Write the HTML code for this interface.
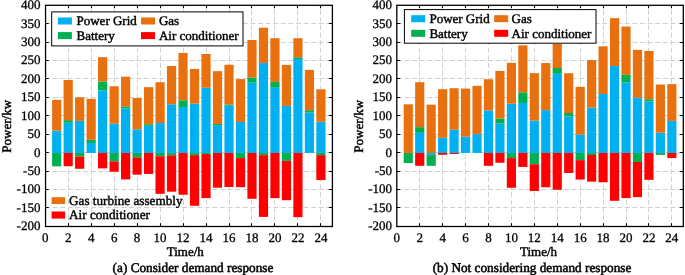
<!DOCTYPE html>
<html><head><meta charset="utf-8"><style>
html,body{margin:0;padding:0;background:#fff;width:685px;height:275px;overflow:hidden}
svg{display:block}
text{text-rendering:geometricPrecision;font-family:"Liberation Serif",serif;font-size:13px;fill:#000;stroke:#000;stroke-width:0.42px}
.t{will-change:transform}
.n{stroke-width:0.3px}
</style></head><body>
<svg class="t" width="685" height="275" viewBox="0 0 685 275">
<rect width="685" height="275" fill="#fff"/>
<path d="M68.5 5.3V226.3M91.5 5.3V226.3M114.5 5.3V226.3M137.5 5.3V226.3M160.5 5.3V226.3M183.5 5.3V226.3M206.5 5.3V226.3M229.5 5.3V226.3M251.5 5.3V226.3M274.5 5.3V226.3M297.5 5.3V226.3M320.5 5.3V226.3" stroke="#d0d0d0" stroke-width="1" stroke-dasharray="5 2.6" stroke-dashoffset="3.2" fill="none"/>
<path d="M45.2 207.5H332.4M45.2 189.5H332.4M45.2 171.5H332.4M45.2 152.5H332.4M45.2 134.5H332.4M45.2 115.5H332.4M45.2 97.5H332.4M45.2 78.5H332.4M45.2 60.5H332.4M45.2 42.5H332.4M45.2 23.5H332.4" stroke="#d0d0d0" stroke-width="1" stroke-dasharray="5 2.6" fill="none"/>
<rect x="52.09" y="130.65" width="9.19" height="22.28" fill="#00b0f0"/>
<rect x="52.09" y="99.89" width="9.19" height="30.76" fill="#e8700f"/>
<rect x="52.09" y="152.93" width="9.19" height="13.41" fill="#00b050"/>
<rect x="63.58" y="122.73" width="9.19" height="30.2" fill="#00b0f0"/>
<rect x="63.58" y="120.15" width="9.19" height="2.58" fill="#00b050"/>
<rect x="63.58" y="80" width="9.19" height="40.15" fill="#e8700f"/>
<rect x="63.58" y="152.93" width="9.19" height="13.26" fill="#ff0000"/>
<rect x="75.07" y="120.89" width="9.19" height="32.05" fill="#00b0f0"/>
<rect x="75.07" y="97.31" width="9.19" height="23.57" fill="#e8700f"/>
<rect x="75.07" y="152.93" width="9.19" height="3.68" fill="#00b050"/>
<rect x="75.07" y="156.62" width="9.19" height="12.15" fill="#ff0000"/>
<rect x="86.56" y="142.99" width="9.19" height="9.95" fill="#00b0f0"/>
<rect x="86.56" y="139.67" width="9.19" height="3.31" fill="#00b050"/>
<rect x="86.56" y="98.79" width="9.19" height="40.89" fill="#e8700f"/>
<rect x="98.04" y="90.32" width="9.19" height="62.62" fill="#00b0f0"/>
<rect x="98.04" y="81.48" width="9.19" height="8.84" fill="#00b050"/>
<rect x="98.04" y="57.17" width="9.19" height="24.31" fill="#e8700f"/>
<rect x="98.04" y="152.93" width="9.19" height="15.47" fill="#ff0000"/>
<rect x="109.53" y="123.47" width="9.19" height="29.47" fill="#00b0f0"/>
<rect x="109.53" y="86.27" width="9.19" height="37.2" fill="#e8700f"/>
<rect x="109.53" y="152.93" width="9.19" height="8.47" fill="#00b050"/>
<rect x="109.53" y="161.41" width="9.19" height="10.31" fill="#ff0000"/>
<rect x="121.02" y="108.36" width="9.19" height="44.57" fill="#00b0f0"/>
<rect x="121.02" y="106.52" width="9.19" height="1.84" fill="#00b050"/>
<rect x="121.02" y="76.69" width="9.19" height="29.83" fill="#e8700f"/>
<rect x="121.02" y="152.93" width="9.19" height="26.52" fill="#ff0000"/>
<rect x="132.51" y="129.36" width="9.19" height="23.57" fill="#00b0f0"/>
<rect x="132.51" y="98.05" width="9.19" height="31.31" fill="#e8700f"/>
<rect x="132.51" y="152.93" width="9.19" height="4.42" fill="#00b050"/>
<rect x="132.51" y="157.35" width="9.19" height="17.31" fill="#ff0000"/>
<rect x="144" y="125.86" width="9.19" height="27.07" fill="#00b0f0"/>
<rect x="144" y="124.2" width="9.19" height="1.66" fill="#00b050"/>
<rect x="144" y="87.19" width="9.19" height="37.02" fill="#e8700f"/>
<rect x="144" y="152.93" width="9.19" height="21" fill="#ff0000"/>
<rect x="155.48" y="122.95" width="9.19" height="29.98" fill="#00b0f0"/>
<rect x="155.48" y="82.21" width="9.19" height="40.74" fill="#e8700f"/>
<rect x="155.48" y="152.93" width="9.19" height="3.31" fill="#00b050"/>
<rect x="155.48" y="156.25" width="9.19" height="37.57" fill="#ff0000"/>
<rect x="166.97" y="104.31" width="9.19" height="48.62" fill="#00b0f0"/>
<rect x="166.97" y="66.01" width="9.19" height="38.31" fill="#e8700f"/>
<rect x="166.97" y="152.93" width="9.19" height="2.39" fill="#00b050"/>
<rect x="166.97" y="155.33" width="9.19" height="36.35" fill="#ff0000"/>
<rect x="178.46" y="107.04" width="9.19" height="45.89" fill="#00b0f0"/>
<rect x="178.46" y="100.26" width="9.19" height="6.78" fill="#00b050"/>
<rect x="178.46" y="52.93" width="9.19" height="47.33" fill="#e8700f"/>
<rect x="178.46" y="152.93" width="9.19" height="41.81" fill="#ff0000"/>
<rect x="189.95" y="103.58" width="9.19" height="49.36" fill="#00b0f0"/>
<rect x="189.95" y="68.95" width="9.19" height="34.62" fill="#e8700f"/>
<rect x="189.95" y="152.93" width="9.19" height="2.21" fill="#00b050"/>
<rect x="189.95" y="155.14" width="9.19" height="50.65" fill="#ff0000"/>
<rect x="201.44" y="87.74" width="9.19" height="65.2" fill="#00b0f0"/>
<rect x="201.44" y="54" width="9.19" height="33.74" fill="#e8700f"/>
<rect x="201.44" y="152.93" width="9.19" height="1.1" fill="#00b050"/>
<rect x="201.44" y="154.04" width="9.19" height="44.05" fill="#ff0000"/>
<rect x="212.92" y="125.16" width="9.19" height="27.77" fill="#00b0f0"/>
<rect x="212.92" y="123.95" width="9.19" height="1.22" fill="#00b050"/>
<rect x="212.92" y="71.16" width="9.19" height="52.78" fill="#e8700f"/>
<rect x="212.92" y="152.93" width="9.19" height="34.77" fill="#ff0000"/>
<rect x="224.41" y="105.64" width="9.19" height="47.29" fill="#00b0f0"/>
<rect x="224.41" y="104.53" width="9.19" height="1.11" fill="#00b050"/>
<rect x="224.41" y="64.72" width="9.19" height="39.82" fill="#e8700f"/>
<rect x="224.41" y="152.93" width="9.19" height="34.07" fill="#ff0000"/>
<rect x="235.9" y="121.99" width="9.19" height="30.94" fill="#00b0f0"/>
<rect x="235.9" y="79.12" width="9.19" height="42.87" fill="#e8700f"/>
<rect x="235.9" y="152.93" width="9.19" height="5.16" fill="#00b050"/>
<rect x="235.9" y="158.09" width="9.19" height="29.1" fill="#ff0000"/>
<rect x="247.39" y="82.58" width="9.19" height="70.35" fill="#00b0f0"/>
<rect x="247.39" y="77.42" width="9.19" height="5.16" fill="#00b050"/>
<rect x="247.39" y="40" width="9.19" height="37.42" fill="#e8700f"/>
<rect x="247.39" y="152.93" width="9.19" height="45.86" fill="#ff0000"/>
<rect x="258.88" y="63.06" width="9.19" height="89.87" fill="#00b0f0"/>
<rect x="258.88" y="27.7" width="9.19" height="35.36" fill="#e8700f"/>
<rect x="258.88" y="152.93" width="9.19" height="2.21" fill="#00b050"/>
<rect x="258.88" y="155.14" width="9.19" height="61.77" fill="#ff0000"/>
<rect x="270.36" y="87.74" width="9.19" height="65.2" fill="#00b0f0"/>
<rect x="270.36" y="81.84" width="9.19" height="5.89" fill="#00b050"/>
<rect x="270.36" y="38.2" width="9.19" height="43.65" fill="#e8700f"/>
<rect x="270.36" y="152.93" width="9.19" height="45.16" fill="#ff0000"/>
<rect x="281.85" y="105.93" width="9.19" height="47" fill="#00b0f0"/>
<rect x="281.85" y="64.9" width="9.19" height="41.03" fill="#e8700f"/>
<rect x="281.85" y="152.93" width="9.19" height="7.92" fill="#00b050"/>
<rect x="281.85" y="160.85" width="9.19" height="39.34" fill="#ff0000"/>
<rect x="293.34" y="59.01" width="9.19" height="93.93" fill="#00b0f0"/>
<rect x="293.34" y="57.35" width="9.19" height="1.66" fill="#00b050"/>
<rect x="293.34" y="38.2" width="9.19" height="19.15" fill="#e8700f"/>
<rect x="293.34" y="152.93" width="9.19" height="64.2" fill="#ff0000"/>
<rect x="304.83" y="112.42" width="9.19" height="40.52" fill="#00b0f0"/>
<rect x="304.83" y="110.21" width="9.19" height="2.21" fill="#00b050"/>
<rect x="304.83" y="69.91" width="9.19" height="40.3" fill="#e8700f"/>
<rect x="316.32" y="121.74" width="9.19" height="31.2" fill="#00b0f0"/>
<rect x="316.32" y="89.32" width="9.19" height="32.41" fill="#e8700f"/>
<rect x="316.32" y="152.93" width="9.19" height="2.21" fill="#00b050"/>
<rect x="316.32" y="155.14" width="9.19" height="24.9" fill="#ff0000"/>
<path d="M68.5 5.3v3M68.5 226.3v-3M91.5 5.3v3M91.5 226.3v-3M114.5 5.3v3M114.5 226.3v-3M137.5 5.3v3M137.5 226.3v-3M160.5 5.3v3M160.5 226.3v-3M183.5 5.3v3M183.5 226.3v-3M206.5 5.3v3M206.5 226.3v-3M229.5 5.3v3M229.5 226.3v-3M251.5 5.3v3M251.5 226.3v-3M274.5 5.3v3M274.5 226.3v-3M297.5 5.3v3M297.5 226.3v-3M320.5 5.3v3M320.5 226.3v-3M45.2 207.5h3.5M332.4 207.5h-3.5M45.2 189.5h3.5M332.4 189.5h-3.5M45.2 171.5h3.5M332.4 171.5h-3.5M45.2 152.5h3.5M332.4 152.5h-3.5M45.2 134.5h3.5M332.4 134.5h-3.5M45.2 115.5h3.5M332.4 115.5h-3.5M45.2 97.5h3.5M332.4 97.5h-3.5M45.2 78.5h3.5M332.4 78.5h-3.5M45.2 60.5h3.5M332.4 60.5h-3.5M45.2 42.5h3.5M332.4 42.5h-3.5M45.2 23.5h3.5M332.4 23.5h-3.5" stroke="#000" stroke-width="1.1" fill="none"/>
<rect x="45.55" y="5.3" width="286.85" height="221.2" fill="none" stroke="#000" stroke-width="1.3"/>
<text transform="translate(40.4 230.2) scale(1 1.0)" text-anchor="end" class="n">-200</text>
<text transform="translate(40.4 211.78) scale(1 1.0)" text-anchor="end" class="n">-150</text>
<text transform="translate(40.4 193.37) scale(1 1.0)" text-anchor="end" class="n">-100</text>
<text transform="translate(40.4 174.95) scale(1 1.0)" text-anchor="end" class="n">-50</text>
<text transform="translate(40.4 156.53) scale(1 1.0)" text-anchor="end" class="n">0</text>
<text transform="translate(40.4 138.12) scale(1 1.0)" text-anchor="end" class="n">50</text>
<text transform="translate(40.4 119.7) scale(1 1.0)" text-anchor="end" class="n">100</text>
<text transform="translate(40.4 101.28) scale(1 1.0)" text-anchor="end" class="n">150</text>
<text transform="translate(40.4 82.87) scale(1 1.0)" text-anchor="end" class="n">200</text>
<text transform="translate(40.4 64.45) scale(1 1.0)" text-anchor="end" class="n">250</text>
<text transform="translate(40.4 46.03) scale(1 1.0)" text-anchor="end" class="n">300</text>
<text transform="translate(40.4 27.62) scale(1 1.0)" text-anchor="end" class="n">350</text>
<text transform="translate(40.4 9.2) scale(1 1.0)" text-anchor="end" class="n">400</text>
<text transform="translate(45.2 241.5) scale(1 1.0)" text-anchor="middle" class="n">0</text>
<text transform="translate(68.18 241.5) scale(1 1.0)" text-anchor="middle" class="n">2</text>
<text transform="translate(91.15 241.5) scale(1 1.0)" text-anchor="middle" class="n">4</text>
<text transform="translate(114.13 241.5) scale(1 1.0)" text-anchor="middle" class="n">6</text>
<text transform="translate(137.1 241.5) scale(1 1.0)" text-anchor="middle" class="n">8</text>
<text transform="translate(160.08 241.5) scale(1 1.0)" text-anchor="middle" class="n">10</text>
<text transform="translate(183.06 241.5) scale(1 1.0)" text-anchor="middle" class="n">12</text>
<text transform="translate(206.03 241.5) scale(1 1.0)" text-anchor="middle" class="n">14</text>
<text transform="translate(229.01 241.5) scale(1 1.0)" text-anchor="middle" class="n">16</text>
<text transform="translate(251.98 241.5) scale(1 1.0)" text-anchor="middle" class="n">18</text>
<text transform="translate(274.96 241.5) scale(1 1.0)" text-anchor="middle" class="n">20</text>
<text transform="translate(297.94 241.5) scale(1 1.0)" text-anchor="middle" class="n">22</text>
<text transform="translate(320.91 241.5) scale(1 1.0)" text-anchor="middle" class="n">24</text>
<path d="M419.5 5.3V226.3M442.5 5.3V226.3M465.5 5.3V226.3M488.5 5.3V226.3M511.5 5.3V226.3M534.5 5.3V226.3M557.5 5.3V226.3M580.5 5.3V226.3M603.5 5.3V226.3M626.5 5.3V226.3M648.5 5.3V226.3M671.5 5.3V226.3" stroke="#d0d0d0" stroke-width="1" stroke-dasharray="5 2.6" stroke-dashoffset="3.2" fill="none"/>
<path d="M396.8 207.5H683.3M396.8 189.5H683.3M396.8 171.5H683.3M396.8 152.5H683.3M396.8 134.5H683.3M396.8 115.5H683.3M396.8 97.5H683.3M396.8 78.5H683.3M396.8 60.5H683.3M396.8 42.5H683.3M396.8 23.5H683.3" stroke="#d0d0d0" stroke-width="1" stroke-dasharray="5 2.6" fill="none"/>
<rect x="403.68" y="104.31" width="9.17" height="48.62" fill="#e8700f"/>
<rect x="403.68" y="152.93" width="9.17" height="10.2" fill="#00b050"/>
<rect x="415.14" y="132.86" width="9.17" height="20.07" fill="#00b0f0"/>
<rect x="415.14" y="127.15" width="9.17" height="5.71" fill="#00b050"/>
<rect x="415.14" y="82.21" width="9.17" height="44.94" fill="#e8700f"/>
<rect x="415.14" y="152.93" width="9.17" height="12.89" fill="#ff0000"/>
<rect x="426.6" y="104.68" width="9.17" height="48.25" fill="#e8700f"/>
<rect x="426.6" y="152.93" width="9.17" height="1.84" fill="#00b0f0"/>
<rect x="426.6" y="154.78" width="9.17" height="11.05" fill="#00b050"/>
<rect x="438.06" y="137.83" width="9.17" height="15.1" fill="#00b0f0"/>
<rect x="438.06" y="89.21" width="9.17" height="48.62" fill="#e8700f"/>
<rect x="438.06" y="152.93" width="9.17" height="1.84" fill="#ff0000"/>
<rect x="449.52" y="129.73" width="9.17" height="23.21" fill="#00b0f0"/>
<rect x="449.52" y="88.22" width="9.17" height="41.51" fill="#e8700f"/>
<rect x="449.52" y="152.93" width="9.17" height="1.1" fill="#ff0000"/>
<rect x="460.98" y="136.73" width="9.17" height="16.21" fill="#00b0f0"/>
<rect x="460.98" y="88.62" width="9.17" height="48.1" fill="#e8700f"/>
<rect x="472.44" y="134.15" width="9.17" height="18.78" fill="#00b0f0"/>
<rect x="472.44" y="85.82" width="9.17" height="48.33" fill="#e8700f"/>
<rect x="483.9" y="110.43" width="9.17" height="42.51" fill="#00b0f0"/>
<rect x="483.9" y="79.27" width="9.17" height="31.16" fill="#e8700f"/>
<rect x="483.9" y="152.93" width="9.17" height="12.89" fill="#ff0000"/>
<rect x="495.36" y="123.54" width="9.17" height="29.39" fill="#00b0f0"/>
<rect x="495.36" y="118.46" width="9.17" height="5.08" fill="#00b050"/>
<rect x="495.36" y="70.94" width="9.17" height="47.52" fill="#e8700f"/>
<rect x="495.36" y="152.93" width="9.17" height="9.8" fill="#ff0000"/>
<rect x="506.82" y="103.72" width="9.17" height="49.21" fill="#00b0f0"/>
<rect x="506.82" y="62.84" width="9.17" height="40.88" fill="#e8700f"/>
<rect x="506.82" y="152.93" width="9.17" height="5.16" fill="#00b050"/>
<rect x="506.82" y="158.09" width="9.17" height="29.69" fill="#ff0000"/>
<rect x="518.28" y="102.95" width="9.17" height="49.98" fill="#00b0f0"/>
<rect x="518.28" y="92.34" width="9.17" height="10.61" fill="#00b050"/>
<rect x="518.28" y="45.31" width="9.17" height="47.04" fill="#e8700f"/>
<rect x="518.28" y="152.93" width="9.17" height="14" fill="#ff0000"/>
<rect x="529.74" y="120.52" width="9.17" height="32.41" fill="#00b0f0"/>
<rect x="529.74" y="73.12" width="9.17" height="47.4" fill="#e8700f"/>
<rect x="529.74" y="152.93" width="9.17" height="11.31" fill="#00b050"/>
<rect x="529.74" y="164.24" width="9.17" height="26.81" fill="#ff0000"/>
<rect x="541.2" y="110.13" width="9.17" height="42.8" fill="#00b0f0"/>
<rect x="541.2" y="63.06" width="9.17" height="47.07" fill="#e8700f"/>
<rect x="541.2" y="152.93" width="9.17" height="34.33" fill="#ff0000"/>
<rect x="552.66" y="73.74" width="9.17" height="79.19" fill="#00b0f0"/>
<rect x="552.66" y="68.03" width="9.17" height="5.71" fill="#00b050"/>
<rect x="552.66" y="44.02" width="9.17" height="24.02" fill="#e8700f"/>
<rect x="552.66" y="152.93" width="9.17" height="36.83" fill="#ff0000"/>
<rect x="564.12" y="116.47" width="9.17" height="36.47" fill="#00b0f0"/>
<rect x="564.12" y="113.01" width="9.17" height="3.46" fill="#00b050"/>
<rect x="564.12" y="73.23" width="9.17" height="39.78" fill="#e8700f"/>
<rect x="564.12" y="152.93" width="9.17" height="20.04" fill="#ff0000"/>
<rect x="575.58" y="134.52" width="9.17" height="18.42" fill="#00b0f0"/>
<rect x="575.58" y="86.82" width="9.17" height="47.7" fill="#e8700f"/>
<rect x="575.58" y="152.93" width="9.17" height="7.22" fill="#00b050"/>
<rect x="575.58" y="160.15" width="9.17" height="19.41" fill="#ff0000"/>
<rect x="587.04" y="107.63" width="9.17" height="45.31" fill="#00b0f0"/>
<rect x="587.04" y="60.11" width="9.17" height="47.52" fill="#e8700f"/>
<rect x="587.04" y="152.93" width="9.17" height="2.03" fill="#00b050"/>
<rect x="587.04" y="154.96" width="9.17" height="26.7" fill="#ff0000"/>
<rect x="598.5" y="94" width="9.17" height="58.93" fill="#00b0f0"/>
<rect x="598.5" y="46.3" width="9.17" height="47.7" fill="#e8700f"/>
<rect x="598.5" y="152.93" width="9.17" height="29.32" fill="#ff0000"/>
<rect x="609.96" y="66.01" width="9.17" height="86.93" fill="#00b0f0"/>
<rect x="609.96" y="18.12" width="9.17" height="47.88" fill="#e8700f"/>
<rect x="609.96" y="152.93" width="9.17" height="47.88" fill="#ff0000"/>
<rect x="621.42" y="82.32" width="9.17" height="70.61" fill="#00b0f0"/>
<rect x="621.42" y="74.85" width="9.17" height="7.48" fill="#00b050"/>
<rect x="621.42" y="26.6" width="9.17" height="48.25" fill="#e8700f"/>
<rect x="621.42" y="152.93" width="9.17" height="45.16" fill="#ff0000"/>
<rect x="632.88" y="97.68" width="9.17" height="55.25" fill="#00b0f0"/>
<rect x="632.88" y="49.91" width="9.17" height="47.77" fill="#e8700f"/>
<rect x="632.88" y="152.93" width="9.17" height="9.06" fill="#00b050"/>
<rect x="632.88" y="161.99" width="9.17" height="35.14" fill="#ff0000"/>
<rect x="644.34" y="101.55" width="9.17" height="51.38" fill="#00b0f0"/>
<rect x="644.34" y="99.23" width="9.17" height="2.32" fill="#00b050"/>
<rect x="644.34" y="51.02" width="9.17" height="48.21" fill="#e8700f"/>
<rect x="644.34" y="152.93" width="9.17" height="26.89" fill="#ff0000"/>
<rect x="655.8" y="132.71" width="9.17" height="20.22" fill="#00b0f0"/>
<rect x="655.8" y="84.53" width="9.17" height="48.18" fill="#e8700f"/>
<rect x="655.8" y="152.93" width="9.17" height="1.99" fill="#00b050"/>
<rect x="667.26" y="120.89" width="9.17" height="32.05" fill="#00b0f0"/>
<rect x="667.26" y="84.13" width="9.17" height="36.76" fill="#e8700f"/>
<rect x="667.26" y="152.93" width="9.17" height="5.12" fill="#ff0000"/>
<path d="M419.5 5.3v3M419.5 226.3v-3M442.5 5.3v3M442.5 226.3v-3M465.5 5.3v3M465.5 226.3v-3M488.5 5.3v3M488.5 226.3v-3M511.5 5.3v3M511.5 226.3v-3M534.5 5.3v3M534.5 226.3v-3M557.5 5.3v3M557.5 226.3v-3M580.5 5.3v3M580.5 226.3v-3M603.5 5.3v3M603.5 226.3v-3M626.5 5.3v3M626.5 226.3v-3M648.5 5.3v3M648.5 226.3v-3M671.5 5.3v3M671.5 226.3v-3M396.8 207.5h3.5M683.3 207.5h-3.5M396.8 189.5h3.5M683.3 189.5h-3.5M396.8 171.5h3.5M683.3 171.5h-3.5M396.8 152.5h3.5M683.3 152.5h-3.5M396.8 134.5h3.5M683.3 134.5h-3.5M396.8 115.5h3.5M683.3 115.5h-3.5M396.8 97.5h3.5M683.3 97.5h-3.5M396.8 78.5h3.5M683.3 78.5h-3.5M396.8 60.5h3.5M683.3 60.5h-3.5M396.8 42.5h3.5M683.3 42.5h-3.5M396.8 23.5h3.5M683.3 23.5h-3.5" stroke="#000" stroke-width="1.1" fill="none"/>
<rect x="396.8" y="5.3" width="286.5" height="221.2" fill="none" stroke="#000" stroke-width="1.3"/>
<text transform="translate(392 230.2) scale(1 1.0)" text-anchor="end" class="n">-200</text>
<text transform="translate(392 211.78) scale(1 1.0)" text-anchor="end" class="n">-150</text>
<text transform="translate(392 193.37) scale(1 1.0)" text-anchor="end" class="n">-100</text>
<text transform="translate(392 174.95) scale(1 1.0)" text-anchor="end" class="n">-50</text>
<text transform="translate(392 156.53) scale(1 1.0)" text-anchor="end" class="n">0</text>
<text transform="translate(392 138.12) scale(1 1.0)" text-anchor="end" class="n">50</text>
<text transform="translate(392 119.7) scale(1 1.0)" text-anchor="end" class="n">100</text>
<text transform="translate(392 101.28) scale(1 1.0)" text-anchor="end" class="n">150</text>
<text transform="translate(392 82.87) scale(1 1.0)" text-anchor="end" class="n">200</text>
<text transform="translate(392 64.45) scale(1 1.0)" text-anchor="end" class="n">250</text>
<text transform="translate(392 46.03) scale(1 1.0)" text-anchor="end" class="n">300</text>
<text transform="translate(392 27.62) scale(1 1.0)" text-anchor="end" class="n">350</text>
<text transform="translate(392 9.2) scale(1 1.0)" text-anchor="end" class="n">400</text>
<text transform="translate(396.8 241.5) scale(1 1.0)" text-anchor="middle" class="n">0</text>
<text transform="translate(419.72 241.5) scale(1 1.0)" text-anchor="middle" class="n">2</text>
<text transform="translate(442.64 241.5) scale(1 1.0)" text-anchor="middle" class="n">4</text>
<text transform="translate(465.56 241.5) scale(1 1.0)" text-anchor="middle" class="n">6</text>
<text transform="translate(488.48 241.5) scale(1 1.0)" text-anchor="middle" class="n">8</text>
<text transform="translate(511.4 241.5) scale(1 1.0)" text-anchor="middle" class="n">10</text>
<text transform="translate(534.32 241.5) scale(1 1.0)" text-anchor="middle" class="n">12</text>
<text transform="translate(557.24 241.5) scale(1 1.0)" text-anchor="middle" class="n">14</text>
<text transform="translate(580.16 241.5) scale(1 1.0)" text-anchor="middle" class="n">16</text>
<text transform="translate(603.08 241.5) scale(1 1.0)" text-anchor="middle" class="n">18</text>
<text transform="translate(626 241.5) scale(1 1.0)" text-anchor="middle" class="n">20</text>
<text transform="translate(648.92 241.5) scale(1 1.0)" text-anchor="middle" class="n">22</text>
<text transform="translate(671.84 241.5) scale(1 1.0)" text-anchor="middle" class="n">24</text>
<rect x="51.7" y="11.9" width="191.3" height="34" fill="#fff" stroke="#000" stroke-width="1"/>
<rect x="57.9" y="17.5" width="14" height="7" fill="#00b0f0"/>
<rect x="57.9" y="32.1" width="14" height="7" fill="#00b050"/>
<text transform="translate(76.5 25.3) scale(1 1.0)">Power Grid</text>
<text transform="translate(76.5 39.9) scale(1 1.0)">Battery</text>
<rect x="141" y="17.5" width="14" height="7" fill="#e8700f"/>
<rect x="141" y="32.1" width="14" height="7" fill="#ff0000"/>
<text transform="translate(158.9 25.3) scale(1 1.0)">Gas</text>
<text transform="translate(158.9 39.9) scale(1 1.0)">Air conditioner</text>
<rect x="404.4" y="9.6" width="191.6" height="33.6" fill="#fff" stroke="#000" stroke-width="1"/>
<rect x="411.2" y="15.2" width="14" height="7" fill="#00b0f0"/>
<rect x="411.2" y="29.8" width="14" height="7" fill="#00b050"/>
<text transform="translate(429.4 23) scale(1 1.0)">Power Grid</text>
<text transform="translate(429.4 37.6) scale(1 1.0)">Battery</text>
<rect x="494.2" y="15.2" width="14" height="7" fill="#e8700f"/>
<rect x="494.2" y="29.8" width="14" height="7" fill="#ff0000"/>
<text transform="translate(511.6 23) scale(1 1.0)">Gas</text>
<text transform="translate(511.6 37.6) scale(1 1.0)">Air conditioner</text>
<rect x="51.6" y="197.2" width="13.5" height="6.8" fill="#e8700f"/>
<rect x="51.6" y="211.5" width="13.5" height="7.1" fill="#ff0000"/>
<text transform="translate(69 205.3) scale(1 1.0)" style="font-size:13.2px">Gas turbine assembly</text>
<text transform="translate(69 219.3) scale(1 1.0)" style="font-size:13.2px">Air conditioner</text>
<text transform="translate(185.3 256) scale(1 1.0)" text-anchor="middle">Time/h</text>
<text transform="translate(193 271.5) scale(1 1.0)" text-anchor="middle" style="font-size:13.25px;stroke-width:0.5px">(a) Consider demand response</text>
<text transform="translate(538.5 256) scale(1 1.0)" text-anchor="middle">Time/h</text>
<text transform="translate(532 271.5) scale(1 1.0)" text-anchor="middle" style="font-size:13.25px;stroke-width:0.5px">(b) Not considering demand response</text>
<text transform="translate(10.8 126.3) rotate(-90) scale(1 1.0)" text-anchor="middle">Power/kw</text>
<text transform="translate(363 126.3) rotate(-90) scale(1 1.0)" text-anchor="middle">Power/kw</text>
</svg>
</body></html>
